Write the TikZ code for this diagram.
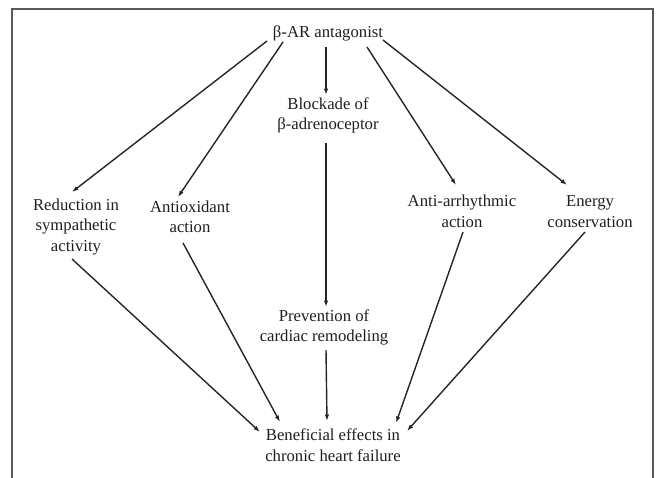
\documentclass[tikz,border=0pt]{standalone}
\usepackage{fontspec}
\setmainfont{Liberation Serif}
\newfontfamily\tnrfont{Liberation Serif}
\usetikzlibrary{arrows.meta,calc}
\begin{document}
\begin{tikzpicture}[x=1pt,y=-1pt,
  lbl/.style={font=\tnrfont\fontsize{16.7}{20.5}\selectfont, align=center, inner sep=0pt, text=black!88},
  arr/.style={-{Latex[length=6.5pt,width=4.5pt]}, line width=1.4pt, black!85}]
\useasboundingbox (0,0) rectangle (658,477);
\draw[line width=1.6pt, black!65] (12,480) -- (12,9) -- (653,9) -- (653,480);

\node[lbl] (top) at (328,33) {β-AR antagonist};
\node[lbl] (blk) at (328,115.5) {Blockade of\\β-adrenoceptor};
\node[lbl] (red) at (76,227) {Reduction in\\sympathetic\\activity};
\node[lbl] (aox) at (190,217) {Antioxidant\\action};
\node[lbl] (ant) at (462,211.5) {Anti-arrhythmic\\action};
\node[lbl] (ene) at (590,211.5) {Energy\\conservation};
\node[lbl] (prv) at (324,327.5) {Prevention of\\cardiac remodeling};
\node[lbl] (ben) at (333,445) {Beneficial effects in\\chronic heart failure};

\draw[arr] ($(top)+(-61,8)$) -- ($(red)+(-4,-35)$);
\draw[arr] ($(top)+(-45,9)$) -- ($(aox)+(-12,-20)$);
\draw[arr] ($(top)+(-2,14)$) -- ($(blk)+(-2,-20.5)$);
\draw[arr] ($(top)+(39,14)$) -- ($(ant)+(-6,-26.5)$);
\draw[arr] ($(top)+(55,7)$) -- ($(ene)+(-23,-26.5)$);
\draw[arr] ($(blk)+(-2,27.5)$) -- ($(prv)+(2,-20.5)$);
\draw[arr] ($(red)+(-4,32)$) -- ($(ben)+(-73,-13)$);
\draw[arr] ($(aox)+(-7,26)$) -- ($(ben)+(-53,-23)$);
\draw[arr] ($(prv)+(2,22.5)$) -- ($(ben)+(-6,-24)$);
\draw[arr] ($(ant)+(1,20.5)$) -- ($(ben)+(63,-22)$);
\draw[arr] ($(ene)+(-5,20.5)$) -- ($(ben)+(74,-14)$);
\end{tikzpicture}
\end{document}
